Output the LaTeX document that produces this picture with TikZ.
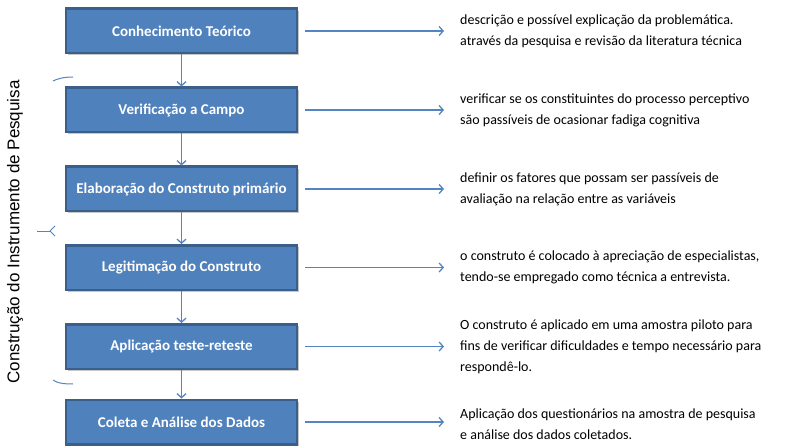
\documentclass[tikz,border=0pt]{standalone}
\usepackage{fontspec}
\setmainfont{Carlito}
\newfontfamily\sidefont{Liberation Sans}
\usetikzlibrary{positioning, arrows.meta, shadows}
\definecolor{boxblue}{HTML}{4F81BD}
\definecolor{boxedge}{HTML}{3A5F8B}
\definecolor{linkblue}{HTML}{5485C2}

\begin{document}
\begin{tikzpicture}[x=1pt, y=-1pt, >={Straight Barb[length=4pt,width=9pt]}, every node/.style={font=\fontsize{14}{21}\selectfont}]
\useasboundingbox (0,0) rectangle (794,446);

\tikzset{
  stepbox/.style={rectangle, draw=boxedge, line width=2.5pt, fill=boxblue, text=white,
    minimum width=231pt, minimum height=44.5pt, font=\bfseries\fontsize{15}{17}\selectfont,
    drop shadow={shadow xshift=1.5pt, shadow yshift=-2pt, fill=gray!55, opacity=0.8}},
  notetext/.style={anchor=west, align=left, inner sep=0pt},
  link/.style={->, linkblue, line width=1.3pt}
}

% Steps
\node[stepbox] at (181.5,31) (s1) {Conhecimento Teórico};
\node[stepbox] at (181.5,110) (s2) {Verificação a Campo};
\node[stepbox] at (181.5,189) (s3) {Elaboração do Construto primário};
\node[stepbox] at (181.5,267.5) (s4) {Legitimação do Construto};
\node[stepbox] at (181.5,346.5) (s5) {Aplicação teste-reteste};
\node[stepbox] at (181.5,422) (s6) {Coleta e Análise dos Dados};

% Descriptions
\node[notetext] at (460,31) (d1) {descrição e possível explicação da problemática.\\através da pesquisa e revisão da literatura técnica};
\node[notetext] at (460,110) (d2) {verificar se os constituintes do processo perceptivo\\são passíveis de ocasionar fadiga cognitiva};
\node[notetext] at (460,189) (d3) {definir os fatores que possam ser passíveis de\\avaliação na relação entre as variáveis};
\node[notetext] at (460,267.5) (d4) {o construto é colocado à apreciação de especialistas,\\tendo-se empregado como técnica a entrevista.};
\node[notetext] at (460,346.5) (d5) {O construto é aplicado em uma amostra piloto para\\fins de verificar dificuldades e tempo necessário para\\respondê-lo.};
\node[notetext] at (460,424) (d6) {Aplicação dos questionários na amostra de pesquisa\\e análise dos dados coletados.};

% Side title
\node[rotate=90, font=\sidefont\fontsize{17}{20}\selectfont] at (15,232) (title) {Construção do Instrumento de Pesquisa};

% Flow between steps
\foreach \a/\b in {s1/s2, s2/s3, s3/s4, s4/s5, s5/s6} {
  \draw[link] (\a) -- (\b);
}

% Step to description
\foreach \i in {1,...,6} {
  \draw[link, shorten <=7pt, shorten >=16pt] (s\i.east) -- (d\i.west |- s\i.east);
}

% Brace pieces
\coordinate (bracetop) at (73,77);
\coordinate (bracetip) at (50,231);
\coordinate (bracebot) at (73,384);
\draw[linkblue, line width=1pt] (bracetop) .. controls (63,77) and (57,79) .. (53,81);
\draw[linkblue, line width=1pt] (55,226) -- (bracetip) -- (55,236);
\draw[linkblue, line width=1pt] (bracetip) -- (37,231);
\draw[linkblue, line width=1pt] (53,380) .. controls (57,383) and (63,384) .. (bracebot);

\end{tikzpicture}
\end{document}
